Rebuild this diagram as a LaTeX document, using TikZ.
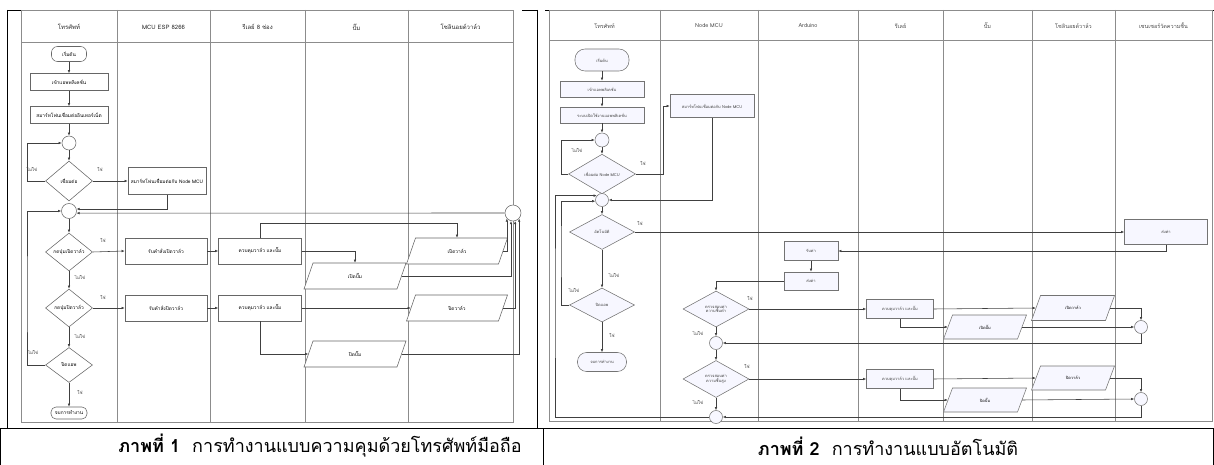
\documentclass[tikz,border=0pt]{standalone}
\usepackage{fontspec}
\setmainfont[Script=Thai]{Loma}
\usetikzlibrary{arrows.meta,shapes.geometric,calc}
\newcommand\plg[7]{% style,name,x,y,w,h,text
  \draw[#1] ({#3-#5/2+4.5},{#4-#6/2}) -- ({#3+#5/2+4.5},{#4-#6/2}) -- ({#3+#5/2-4.5},{#4+#6/2}) -- ({#3-#5/2-4.5},{#4+#6/2}) -- cycle;
  \node[ptxt, minimum width=#5, minimum height=#6] (#2) at (#3,#4) {#7};}
\begin{document}
\begin{tikzpicture}[x=1pt,y=-1pt,
  lane/.style={draw=black!45, line width=0.8pt},
  blk/.style={draw=black, line width=0.9pt},
  conn/.style={draw=black!75, line width=0.55pt, -{Latex[length=3.2pt,width=2.6pt]}},
  nd/.style={draw=black!60, line width=0.55pt, fill=white, inner sep=0.5pt, align=center, font=\fontsize{4.8}{5.3}\selectfont},
  box/.style={nd, rectangle},
  term/.style={nd, rectangle, rounded corners=6pt},
  dec/.style={nd, diamond, inner sep=0pt},
  conc/.style={nd, circle, inner sep=0pt},
  pshape/.style={draw=black!60, line width=0.55pt, fill=white},
  pshape2/.style={draw=black!55, line width=0.55pt, fill=blue!3},
  ptxt/.style={inner sep=0pt, align=center, font=\fontsize{4.8}{5.3}\selectfont},
  two/.style={fill=blue!3, draw=black!55, font=\fontsize{4}{4.6}\selectfont, text=black!75},
  hdr/.style={font=\fontsize{6}{7}\selectfont, text=black!85},
  hdr2/.style={font=\fontsize{5.5}{6.5}\selectfont, text=black!70},
  lbl/.style={font=\fontsize{4.5}{5}\selectfont, text=black!75, inner sep=0pt},
  captxt/.style={font=\fontsize{18}{21}\selectfont, inner sep=0pt}
]
\useasboundingbox (0,0) rectangle (1214,465);

% ---------------- table lines ----------------
\draw[blk] (7,10) -- (22,10);
\draw[blk] (522,10) -- (537,10);
\draw[blk] (545,10) -- (550,10);
\draw[blk] (1205,10) -- (1214,10);
\draw[blk] (7,10) -- (7,428);
\draw[blk] (537,10) -- (537,428);
\draw[blk] (0,428) -- (1214,428);
\draw[blk] (543,428) -- (543,465);
\draw[blk] (0.5,428) -- (0.5,465);
\draw[blk] (1213.5,428) -- (1213.5,465);

% ---------------- panel 1 frame ----------------
\draw[lane] (21,10) rectangle (513,422);
\draw[lane] (21,42) -- (513,42);
\foreach \x in {117,210,305,408} \draw[lane] (\x,10) -- (\x,422);
\node[hdr] (h11) at (69,27) {โทรศัพท์};
\node[hdr] (h12) at (163.5,27) {MCU ESP 8266};
\node[hdr] (h13) at (257.5,27) {รีเลย์ 8 ช่อง};
\node[hdr] (h14) at (356.5,27) {ปั๊ม};
\node[hdr] (h15) at (460.5,27) {โซลินอยด์วาล์ว};

% panel 1 nodes
\node[term, minimum width=35, minimum height=15] (a0) at (69,54) {เริ่มต้น};
\node[box, minimum width=78, minimum height=17] (a1) at (69,82) {เข้าแอพพลิเคชั่น};
\node[box, minimum width=78, minimum height=17] (a2) at (69,115) {สมาร์ทโฟนเชื่อมต่ออินเทอร์เน็ต};
\node[conc, minimum size=14] (ac1) at (69,143) {};
\node[dec, minimum width=47, minimum height=40] (ad1) at (69,181) {เชื่อมต่อ};
\node[box, minimum width=78, minimum height=27] (am) at (167,181) {สมาร์ทโฟนเชื่อมต่อกับ Node MCU};
\node[conc, minimum size=15] (ac2) at (69,211) {};
\node[dec, minimum width=47, minimum height=38] (ad2) at (69,252) {กดปุ่มเปิดวาล์ว};
\node[dec, minimum width=47, minimum height=38] (ad3) at (69,308) {กดปุ่มปิดวาล์ว};
\node[dec, minimum width=47, minimum height=35] (ad4) at (69,365) {ปิดแอพ};
\node[term, minimum width=36, minimum height=12, rounded corners=5pt] (a9) at (69,413) {จบการทำงาน};
\node[box, minimum width=82, minimum height=26] (ar1) at (166,251) {รับคำสั่งเปิดวาล์ว};
\node[box, minimum width=82, minimum height=26] (ar2) at (166,308) {รับคำสั่งปิดวาล์ว};
\node[box, minimum width=83, minimum height=26] (ak1) at (260,251) {ควบคุมวาล์ว และปั๊ม};
\node[box, minimum width=83, minimum height=26] (ak2) at (260,308) {ควบคุมวาล์ว และปั๊ม};
\plg{pshape}{apv1}{457}{251}{92}{26}{เปิดวาล์ว}
\plg{pshape}{app1}{355}{276}{93}{26}{เปิดปั๊ม}
\plg{pshape}{apv2}{457}{308}{92}{26}{ปิดวาล์ว}
\plg{pshape}{app2}{355}{354}{93}{26}{ปิดปั๊ม}
\node[conc, minimum size=16] (abc) at (513,213) {};
\coordinate (aL) at (27,300);

% panel 1 labels
\node[lbl] (al1) at (32,169) {ไม่ใช่};
\node[lbl] (al2) at (100,169) {ใช่};
\node[lbl] (al3) at (103,240) {ใช่};
\node[lbl] (al4) at (80,277) {ไม่ใช่};
\node[lbl] (al5) at (103,297) {ใช่};
\node[lbl] (al6) at (80,336) {ไม่ใช่};
\node[lbl] (al7) at (33,352) {ไม่ใช่};
\node[lbl] (al8) at (80,392) {ใช่};

% panel 1 connectors
\draw[conn] (a0) -- (a1);
\draw[conn] (a1) -- (a2);
\draw[conn] (a2) -- (ac1);
\draw[conn] (ac1) -- (ad1);
\draw[conn] (ad1.west) -| (aL |- ac1.west) -- (ac1.west);
\draw[conn] (ad1.east) -- (am.west);
\draw[conn] (am.south) |- (ac2.15);
\draw[conn] (ad4.west) -| (aL) |- (ac2.west);
\draw[conn] (ac2) -- (ad2);
\draw[conn] (ad2.east) -- (ar1.west);
\draw[conn] (ad2) -- (ad3);
\draw[conn] (ad3.east) -- (ar2.west);
\draw[conn] (ad3) -- (ad4);
\draw[conn] (ad4) -- (a9);
\draw[conn] (ar1) -- (ak1);
\draw[conn] (ar2) -- (ak2);
\draw[conn] (ak1.north) -- ++(0,-14) -| (apv1.north);
\draw[conn] (ak1.east) -| (app1.north);
\draw[conn] (ak2.east) -- (apv2.west);
\draw[conn] (ak2.south) |- (app2.west);
\draw[conn] (apv1.east) -| (abc.222);
\draw[conn] (app1.east) -| (abc.256);
\draw[conn] (apv2.east) -| (abc.285);
\draw[conn] (app2.east) -| (abc.318);
\draw[conn] (abc.west) -- (ac2.344);

% ---------------- panel 2 frame ----------------
\draw[lane] (549,10) rectangle (1212,421);
\draw[lane] (549,40) -- (1212,40);
\foreach \x in {660,758,858,943,1032,1115} \draw[lane] (\x,10) -- (\x,421);
\node[hdr2] (h21) at (604.5,26) {โทรศัพท์};
\node[hdr2] (h22) at (709,26) {Node MCU};
\node[hdr2] (h23) at (808,26) {Arduino};
\node[hdr2] (h24) at (900.5,26) {รีเลย์};
\node[hdr2] (h25) at (987.5,26) {ปั๊ม};
\node[hdr2] (h26) at (1073.5,26) {โซลินอยด์วาล์ว};
\node[hdr2] (h27) at (1163.5,26) {เซนเซอร์วัดความชื้น};

% panel 2 nodes
\node[term, two, minimum width=54, minimum height=22, rounded corners=10pt] (b0) at (602,60) {เริ่มต้น};
\node[box, two, minimum width=84, minimum height=16] (b1) at (602,89) {เข้าแอพพลิเคชั่น};
\node[box, two, minimum width=84, minimum height=16] (b2) at (602,115) {ระบบเปิดใช้งานแอพพลิเคชั่น};
\node[conc, two, minimum size=14] (bc1) at (602,140) {};
\node[dec, two, minimum width=67, minimum height=36] (bd1) at (602,174) {เชื่อมต่อ Node MCU};
\node[box, two, minimum width=84, minimum height=23] (bm) at (712,106) {สมาร์ทโฟนเชื่อมต่อกับ Node MCU};
\node[conc, two, minimum size=13] (bc2) at (602,200) {};
\node[dec, two, minimum width=65, minimum height=35] (bd2) at (602,232) {อัตโนมัติ};
\node[dec, two, minimum width=65, minimum height=34] (bd3) at (602,305) {ปิดแอพ};
\node[term, two, minimum width=49, minimum height=19, rounded corners=9pt] (b9) at (602,362) {จบการทำงาน};
\node[box, two, minimum width=83, minimum height=25] (bs) at (1166,232) {ส่งค่า};
\node[box, two, minimum width=54, minimum height=19] (bu1) at (811,251) {รับค่า};
\node[box, two, minimum width=54, minimum height=18] (bu2) at (811,281) {ส่งค่า};
\node[dec, two, minimum width=66, minimum height=36] (bdA) at (716,309) {ตรวจสอบค่า\\ความชื้นต่ำ};
\node[conc, two, minimum size=13] (bcA) at (716,343) {};
\node[dec, two, minimum width=66, minimum height=37] (bdB) at (716,379) {ตรวจสอบค่า\\ความชื้นสูง};
\node[conc, two, minimum size=13] (bcB) at (716,417) {};
\node[box, two, minimum width=67, minimum height=19] (bkA) at (900,309) {ควบคุมวาล์ว และปั๊ม};
\node[box, two, minimum width=67, minimum height=19] (bkB) at (900,379) {ควบคุมวาล์ว และปั๊ม};
\plg{pshape2}{bpvA}{1073}{308}{74}{25}{\fontsize{4}{4.6}\selectfont เปิดวาล์ว}
\plg{pshape2}{bppA}{985}{327}{74}{24}{\fontsize{4}{4.6}\selectfont เปิดปั๊ม}
\plg{pshape2}{bpvB}{1073}{378}{74}{24}{\fontsize{4}{4.6}\selectfont ปิดวาล์ว}
\plg{pshape2}{bppB}{985}{400}{74}{24}{\fontsize{4}{4.6}\selectfont ปิดปั๊ม}
\node[conc, two, minimum size=13] (brA) at (1141,327) {};
\node[conc, two, minimum size=13] (brB) at (1141,399) {};
\coordinate (bL1) at (561,250);
\coordinate (bL2) at (555,300);
\coordinate (bJ) at (663,140);

% panel 2 labels
\node[lbl] (bl1) at (577,150) {ไม่ใช่};
\node[lbl] (bl2) at (643,163) {ใช่};
\node[lbl] (bl3) at (640,223) {ใช่};
\node[lbl] (bl4) at (614,275) {ไม่ใช่};
\node[lbl] (bl5) at (574,290) {ไม่ใช่};
\node[lbl] (bl6) at (612,335) {ใช่};
\node[lbl] (bl7) at (750,298) {ใช่};
\node[lbl] (bl8) at (698,333) {ไม่ใช่};
\node[lbl] (bl9) at (747,366) {ใช่};
\node[lbl] (bl10) at (698,402) {ไม่ใช่};

% panel 2 connectors
\draw[conn] (b0) -- (b1);
\draw[conn] (b1) -- (b2);
\draw[conn] (b2) -- (bc1);
\draw[conn] (bc1) -- (bd1);
\draw[conn] (bd1.west) -| (bL1 |- bc1.west) -- (bc1.west);
\draw[conn] (bd1.east) -| (bJ) |- (bm.west);
\draw[conn] (bm.south) |- (bc2.east);
\draw[conn] (bc2) -- (bd2);
\draw[conn] (bd2.east) -- (bs.west);
\draw[conn] (bs.south) |- (bu1.east);
\draw[conn] (bu1) -- (bu2);
\draw[conn] (bu2.west) -| (bdA.north);
\draw[conn] (bdA.east) -- (bkA.west);
\draw[conn] (bkA.east) -- (bpvA.west);
\draw[conn] (bkA.south) |- (bppA.west);
\draw[conn] (bpvA.east) -| (brA.north);
\draw[conn] (bppA.east) -- (brA.west);
\draw[conn] (brA.south) |- (bcA.east);
\draw[conn] (bdA) -- (bcA);
\draw[conn] (bcA) -- (bdB);
\draw[conn] (bdB.east) -- (bkB.west);
\draw[conn] (bkB.east) -- (bpvB.west);
\draw[conn] (bkB.south) |- (bppB.west);
\draw[conn] (bpvB.east) -| (brB.north);
\draw[conn] (bppB.east) -- (brB.west);
\draw[conn] (brB.south) |- (bcB.east);
\draw[conn] (bdB) -- (bcB);
\draw[conn] (bcB.west) -| (bL2) |- (bc2.140);
\draw[conn] (bd2) -- (bd3);
\draw[conn] (bd3.west) -| (bL1) |- (bc2.190);
\draw[conn] (bd3) -- (b9);

% ---------------- captions ----------------
\node[captxt] (cap1) at (320,446) {\textbf{ภาพที่ 1}\ \ การทำงานแบบความคุมด้วยโทรศัพท์มือถือ};
\node[captxt] (cap2) at (888,446) {\textbf{ภาพที่ 2}\ \ การทำงานแบบอัตโนมัติ};
\end{tikzpicture}
\end{document}
